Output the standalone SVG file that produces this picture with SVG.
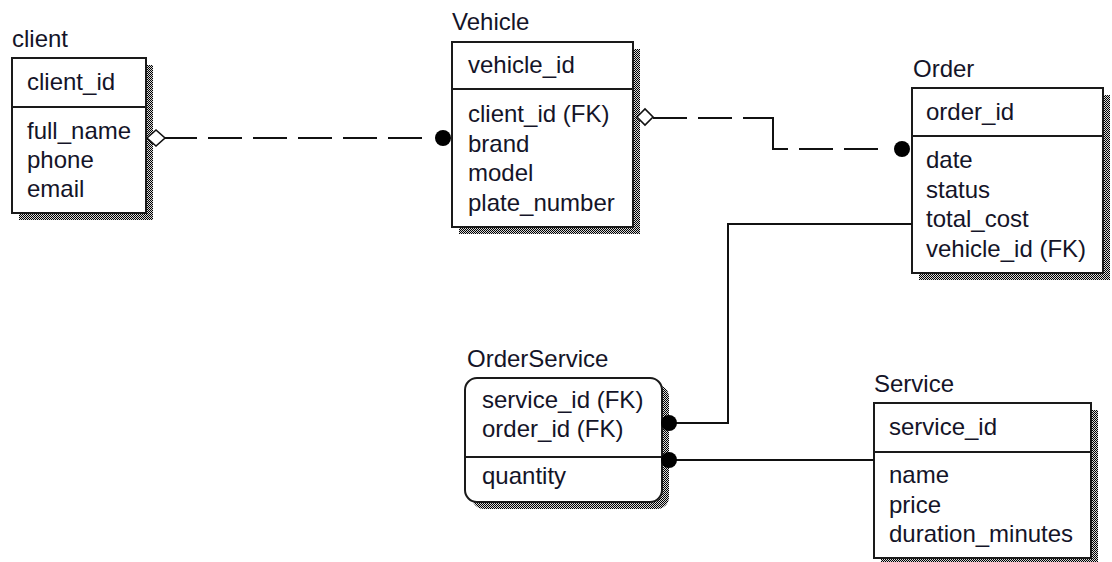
<svg xmlns="http://www.w3.org/2000/svg" width="1112" height="562" viewBox="0 0 1112 562">
<defs>
<pattern id="dither" width="2" height="2" patternUnits="userSpaceOnUse">
<rect width="2" height="2" fill="#d8d8d8"/>
<rect x="0" y="0" width="1" height="1" fill="#000"/>
<rect x="1" y="1" width="1" height="1" fill="#000"/>
</pattern>
<style>
.shadow{fill:url(#dither);stroke:none}
.box{fill:#fff;stroke:#1a1a1a;stroke-width:2}
.div{stroke:#1a1a1a;stroke-width:2}
.t{font-family:"Liberation Sans",Arial,sans-serif;font-size:24px;fill:#141428}
.line{fill:none;stroke:#111;stroke-width:2}
.dash{fill:none;stroke:#111;stroke-width:2;stroke-dasharray:34 11}
.dot{fill:#000}
.dia{fill:#fff;stroke:#111;stroke-width:1.6}
</style>
</defs>
<rect width="1112" height="562" fill="#fff"/>

<g id="client">
<rect class="shadow" x="19" y="65" width="134" height="155"/>
<rect class="box" x="12" y="58" width="134" height="155"/>
<line class="div" x1="12" y1="107" x2="146" y2="107"/>
<text class="t" x="12" y="47">client</text>
<text class="t" x="27" y="90">client_id</text>
<text class="t" x="27" y="139">full_name</text>
<text class="t" x="27" y="168">phone</text>
<text class="t" x="27" y="197">email</text>
</g>

<g id="vehicle">
<rect class="shadow" x="459" y="49" width="181" height="185"/>
<rect class="box" x="452" y="42" width="181" height="185"/>
<line class="div" x1="452" y1="89" x2="633" y2="89"/>
<text class="t" x="452" y="30">Vehicle</text>
<text class="t" x="468" y="73">vehicle_id</text>
<text class="t" x="468" y="122">client_id (FK)</text>
<text class="t" x="468" y="151.5">brand</text>
<text class="t" x="468" y="181">model</text>
<text class="t" x="468" y="210.5">plate_number</text>
</g>

<g id="order">
<rect class="shadow" x="919" y="95" width="191" height="185"/>
<rect class="box" x="912" y="88" width="191" height="185"/>
<line class="div" x1="912" y1="136" x2="1103" y2="136"/>
<text class="t" x="913" y="77">Order</text>
<text class="t" x="926" y="120">order_id</text>
<text class="t" x="926" y="168">date</text>
<text class="t" x="926" y="197.5">status</text>
<text class="t" x="926" y="227">total_cost</text>
<text class="t" x="926" y="256.5">vehicle_id (FK)</text>
</g>

<g id="orderservice">
<rect class="shadow" x="472" y="385" width="197" height="124" rx="12"/>
<rect class="box" x="465" y="378" width="197" height="124" rx="12"/>
<line class="div" x1="465" y1="457" x2="662" y2="457"/>
<text class="t" x="467" y="367">OrderService</text>
<text class="t" x="482" y="408">service_id (FK)</text>
<text class="t" x="482" y="437">order_id (FK)</text>
<text class="t" x="482" y="484">quantity</text>
</g>

<g id="service">
<rect class="shadow" x="881" y="410" width="217" height="155"/>
<rect class="box" x="874" y="403" width="217" height="155"/>
<line class="div" x1="874" y1="452" x2="1091" y2="452"/>
<text class="t" x="874" y="392">Service</text>
<text class="t" x="889" y="435">service_id</text>
<text class="t" x="889" y="483">name</text>
<text class="t" x="889" y="512.5">price</text>
<text class="t" x="889" y="542">duration_minutes</text>
</g>

<g id="connectors">
<!-- client - Vehicle -->
<path class="dash" d="M422,138 L165,138"/>
<path class="dia" d="M147,138 L156,130 L165,138 L156,146 Z"/>
<circle class="dot" cx="443" cy="138" r="8"/>
<!-- Vehicle - Order -->
<path class="dash" d="M653,118 L773,118"/>
<path class="line" d="M773,117 L773,150"/>
<path class="dash" d="M878,149 L773,149"/>
<path class="dia" d="M637,117 L645,109 L653,117 L645,125 Z"/>
<circle class="dot" cx="902" cy="149" r="8"/>
<!-- Order - OrderService -->
<path class="line" d="M912,224 L728,224 L728,423 L676,423"/>
<circle class="dot" cx="669" cy="423" r="8"/>
<!-- Service - OrderService -->
<path class="line" d="M874,460 L676,460"/>
<circle class="dot" cx="669" cy="460" r="8"/>
</g>
</svg>
